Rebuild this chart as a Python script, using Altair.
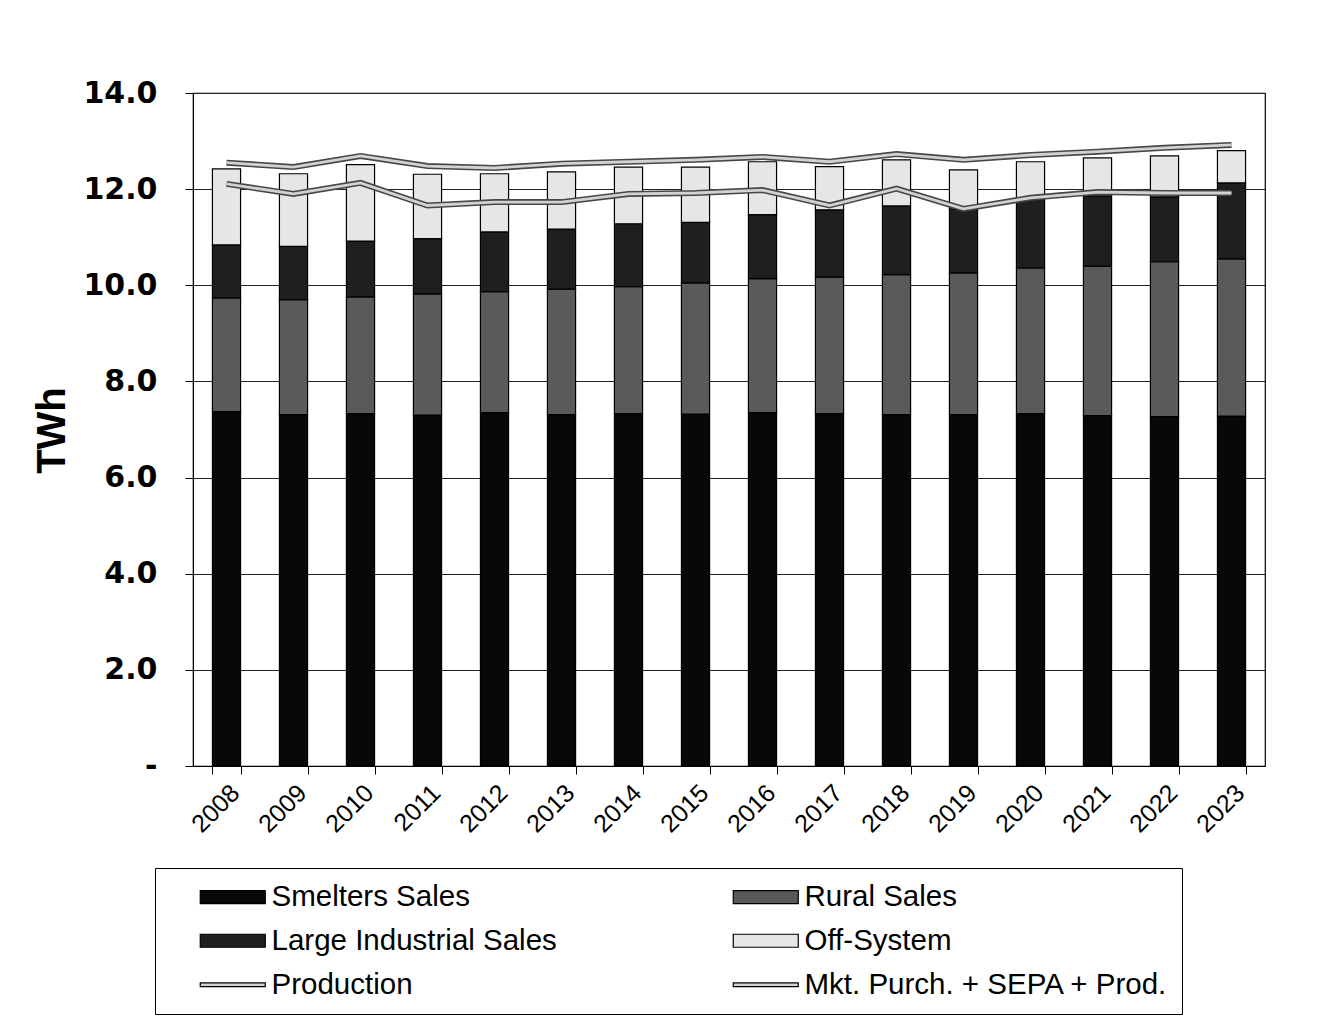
import altair as alt
import pandas as pd

years = [str(y) for y in range(2008, 2024)]
smelters = [7.37, 7.31, 7.33, 7.30, 7.35, 7.31, 7.33, 7.32, 7.35, 7.33, 7.31, 7.31, 7.33, 7.29, 7.27, 7.28]
rural = [2.37, 2.39, 2.43, 2.52, 2.52, 2.61, 2.64, 2.73, 2.79, 2.84, 2.91, 2.95, 3.03, 3.11, 3.22, 3.27]
large_industrial = [1.10, 1.11, 1.16, 1.15, 1.24, 1.25, 1.31, 1.26, 1.33, 1.40, 1.43, 1.33, 1.46, 1.46, 1.35, 1.58]
off_system = [1.58, 1.51, 1.59, 1.34, 1.21, 1.19, 1.18, 1.15, 1.10, 0.90, 0.96, 0.81, 0.75, 0.79, 0.85, 0.67]
production = [12.11, 11.90, 12.13, 11.66, 11.73, 11.73, 11.90, 11.92, 11.98, 11.66, 12.01, 11.59, 11.82, 11.94, 11.92, 11.92]
mkt_purch = [12.55, 12.46, 12.69, 12.48, 12.44, 12.53, 12.57, 12.61, 12.67, 12.57, 12.73, 12.61, 12.71, 12.78, 12.86, 12.92]

# legend order (row-major, two columns)
series_names = ["Smelters Sales", "Rural Sales", "Large Industrial Sales", "Off-System",
                "Production", "Mkt. Purch. + SEPA + Prod."]
series_colors = ["#080808", "#5a5a5a", "#1f1f1f", "#e6e6e6", "#d2d2d2", "#d2d2d2"]
# drawing order (stack order) for the marks' own colour scale
mark_names = ["Smelters Sales", "Large Industrial Sales", "Rural Sales", "Off-System",
              "Production", "Mkt. Purch. + SEPA + Prod."]
mark_colors = ["#080808", "#1f1f1f", "#5a5a5a", "#e6e6e6", "#d2d2d2", "#d2d2d2"]

bar_path = "M2.54,-1H12.54V1H2.54Z"
line_path = "M2.54,-0.28H12.54V0.28H2.54Z"
series_shapes = [bar_path] * 4 + [line_path] * 2

bar_series = [("Smelters Sales", smelters), ("Rural Sales", rural),
              ("Large Industrial Sales", large_industrial), ("Off-System", off_system)]
bar_rows = []
for i, yr in enumerate(years):
    for k, (name, vals) in enumerate(bar_series):
        bar_rows.append({"year": yr, "series": name, "value": vals[i], "order": k})
bars_df = pd.DataFrame(bar_rows)

line_rows = []
for name, vals in [("Production", production), ("Mkt. Purch. + SEPA + Prod.", mkt_purch)]:
    for i, yr in enumerate(years):
        line_rows.append({"year": yr, "series": name, "value": vals[i]})
lines_df = pd.DataFrame(line_rows)

dummy_df = pd.DataFrame({"year": [years[0]] * len(series_names), "series": series_names,
                         "value": [-50.0] * len(series_names)})

mark_scale = alt.Scale(domain=mark_names, range=mark_colors)
legend_fill_scale = alt.Scale(domain=series_names, range=series_colors)
legend_stroke_scale = alt.Scale(domain=series_names, range=["#000000"] * len(series_names))
shape_scale = alt.Scale(domain=series_names, range=series_shapes)

x_enc = alt.X("year:N", sort=years, title=None,
              scale=alt.Scale(paddingInner=0.58, paddingOuter=0.29),
              axis=alt.Axis(labelAngle=315, labelFont="Liberation Sans", labelFontSize=25,
                            labelColor="black", labelPadding=6, tickBand="extent",
                            tickSize=8, tickColor="black", domainColor="black", grid=False))
y_scale = alt.Scale(domain=[0, 14], nice=False)
y_enc = alt.Y("value:Q", stack="zero", scale=y_scale, title="TWh",
              axis=alt.Axis(values=[0, 2, 4, 6, 8, 10, 12, 14],
                            labelExpr="datum.value == 0 ? '-' : format(datum.value, '.1f')",
                            labelFont="DejaVu Sans", labelFontWeight="bold", labelFontSize=30,
                            labelColor="black", labelPadding=28, tickSize=8, tickColor="black",
                            domainColor="black", grid=True, gridColor="#222222", gridWidth=1,
                            titleFont="Liberation Sans", titleFontWeight="bold", titleFontSize=40,
                            titleColor="black", titleX=-141, titleY=337, titleAngle=270,
                            titleAlign="center", titleBaseline="middle"))

legend = alt.Legend(orient="none", legendX=-38, legendY=775, columns=2, direction="horizontal",
                    title=None,
                    labelFont="Liberation Sans", labelFontSize=29.5, labelColor="black",
                    labelOffset=73, symbolSize=169, rowPadding=13, columnPadding=145,
                    strokeColor="black", padding=14, fillColor="white",
                    symbolStrokeColor="black", symbolStrokeWidth=1.2,
                    labelLimit=600)

bars = alt.Chart(bars_df).mark_bar(stroke="black", strokeWidth=1.2).encode(
    x=x_enc,
    y=y_enc,
    color=alt.Color("series:N", scale=mark_scale, legend=None),
    order=alt.Order("order:Q"),
)

line_under = alt.Chart(lines_df).mark_line(color="#474747", strokeWidth=6).encode(
    x=alt.X("year:N", sort=years),
    y=alt.Y("value:Q", scale=y_scale),
    detail="series:N",
)

line_top = alt.Chart(lines_df).mark_line(strokeWidth=2.8).encode(
    x=alt.X("year:N", sort=years),
    y=alt.Y("value:Q", scale=y_scale),
    color=alt.Color("series:N", scale=mark_scale, legend=None),
)

dummy = alt.Chart(dummy_df).mark_point(filled=True, clip=True, strokeWidth=1.2, opacity=1).encode(
    x=alt.X("year:N", sort=years),
    y=alt.Y("value:Q", scale=y_scale),
    fill=alt.Fill("series:N", scale=legend_fill_scale, legend=legend),
    stroke=alt.Stroke("series:N", scale=legend_stroke_scale, legend=legend),
    shape=alt.Shape("series:N", scale=shape_scale, legend=legend),
)

chart = alt.layer(bars, line_under, line_top, dummy).properties(
    width=1072, height=673,
    autosize=alt.AutoSizeParams(type="none"),
    padding={"left": 193, "top": 93, "right": 76, "bottom": 254},
    background="white",
).configure_view(stroke="black", strokeWidth=1.2)

chart.save("out.html", embed_options={"renderer": "svg", "actions": False})
